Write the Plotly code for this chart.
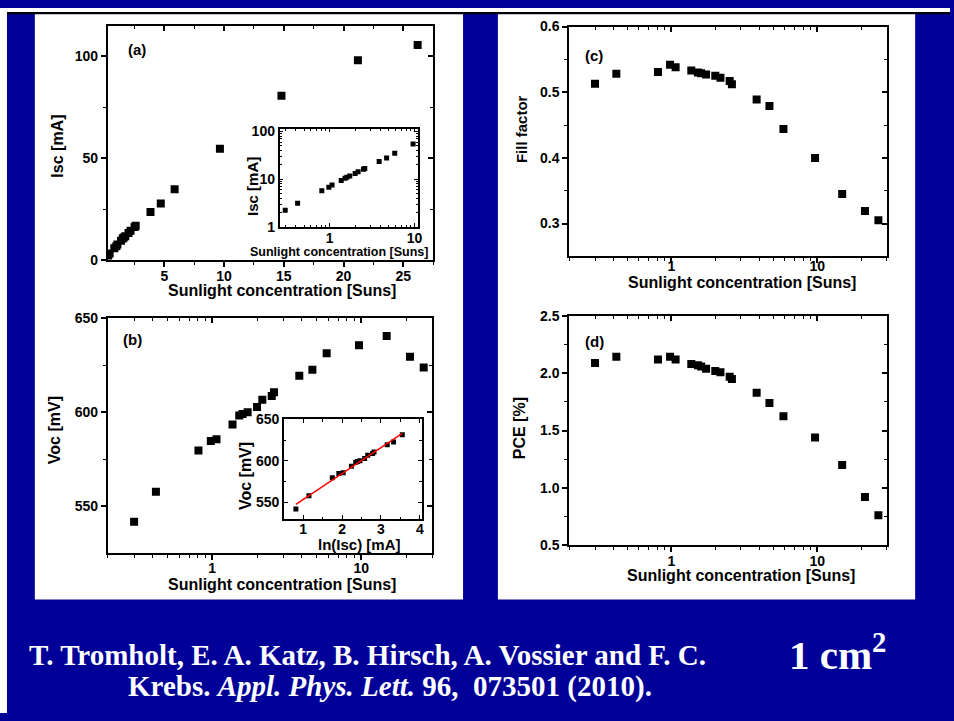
import numpy as np
import plotly.graph_objects as go

# Sunlight concentration [Suns] for each measurement
suns = [0.30, 0.42, 0.81, 0.98, 1.07, 1.37, 1.52, 1.60, 1.73, 2.00,
        2.17, 2.51, 2.60, 3.84, 4.70, 5.86, 9.65, 14.8, 21.2, 26.2]
# Short-circuit current [mA]
isc = [2.25, 3.15, 5.75, 6.8, 7.6, 9.4, 10.5, 11.0, 11.7, 13.2,
       14.3, 16.2, 16.8, 23.6, 27.8, 34.8, 54.7, 80.7, 98.1, 105.6]
# Open-circuit voltage [mV]
voc = [541.8, 557.8, 579.7, 584.7, 585.6, 593.5, 598.3, 599.1, 600.0, 602.8,
       606.6, 608.7, 610.6, 619.4, 622.6, 631.4, 635.6, 640.5, 629.5, 623.8]
# Fill factor
ff = [0.513, 0.528, 0.531, 0.542, 0.538, 0.533, 0.530, 0.529, 0.527, 0.525,
      0.522, 0.517, 0.512, 0.489, 0.479, 0.444, 0.400, 0.345, 0.319, 0.305]
# Power conversion efficiency [%]
pce = [2.09, 2.145, 2.12, 2.145, 2.12, 2.08, 2.07, 2.06, 2.04, 2.02,
       2.01, 1.97, 1.95, 1.83, 1.74, 1.625, 1.44, 1.20, 0.92, 0.76]

N_INSET_A = 17   # points up to 10 suns in the log-log inset
N_INSET_B = 16   # points used for the Voc vs ln(Isc) fit

W, H = 954, 721
NAVY = "#000099"
SANS = "Liberation Sans, Arial, sans-serif"
SERIF = "Liberation Serif, Times New Roman, serif"


def fx(p):
    return p / W


def fy(p):
    return 1 - p / H


# plot-area frames in pixels: (left, right), (top, bottom)
frames = {
    1: ((108.3, 435.0), (18.3, 257.7)),    # (a) Isc
    2: ((108.3, 434.3), (317.3, 557.7)),   # (b) Voc
    3: ((571.7, 890.7), (19.0, 254.0)),    # (c) FF
    4: ((571.7, 890.7), (315.0, 549.3)),   # (d) PCE
    5: ((280.7, 420.0), (123.3, 224.0)),   # inset of (a)
    6: ((285.0, 423.5), (420.7, 522.5)),   # inset of (b)
}

log_minor_main = [0.2, 0.3, 0.4, 0.5, 0.6, 0.7, 0.8, 0.9,
                  2, 3, 4, 5, 6, 7, 8, 9, 20, 30]
log_x_main = [np.log10(0.2), np.log10(30)]

axis_specs = {
    1: dict(xtype="linear", xrange=[0.27, 27.5], xticks=[5, 10, 15, 20, 25],
            xminor=[2.5, 7.5, 12.5, 17.5, 22.5, 27.5], xstandoff=-3,
            ytype="linear", yrange=[0, 115], yticks=[0, 50, 100], yminor=[25, 75]),
    2: dict(xtype="log", xrange=log_x_main, xticks=[1, 10], xminor=log_minor_main,
            xstandoff=-4,
            ytype="linear", yrange=[525, 650], yticks=[550, 600, 650], yminor=[575, 625]),
    3: dict(xtype="log", xrange=log_x_main, xticks=[1, 10], xminor=log_minor_main,
            xstandoff=-9,
            ytype="linear", yrange=[0.25, 0.6], yticks=[0.3, 0.4, 0.5, 0.6],
            yminor=[0.35, 0.45, 0.55]),
    4: dict(xtype="log", xrange=log_x_main, xticks=[1, 10], xminor=log_minor_main,
            xstandoff=-3,
            ytype="linear", yrange=[0.5, 2.5], yticks=[0.5, 1.0, 1.5, 2.0, 2.5],
            yminor=[0.75, 1.25, 1.75, 2.25]),
}
ytickfmt = {1: None, 2: None, 3: ".1f", 4: ".1f"}

TICKFONT = dict(family=SANS, size=14, color="black", weight="bold")
layout_axes = {}

for i, spec in axis_specs.items():
    (x0, x1), (y0, y1) = frames[i]
    xd = [fx(x0), fx(x1)]
    yd = [fy(y1), fy(y0)]
    common = dict(showgrid=False, zeroline=False, color="black", tickcolor="black")
    layout_axes[f"xaxis{i}"] = dict(
        domain=xd, anchor=f"y{i}", type=spec["xtype"], range=spec["xrange"],
        tickmode="array", tickvals=spec["xticks"], ticktext=[str(v) for v in spec["xticks"]],
        ticks="outside", ticklen=5, tickwidth=1.5, ticklabelstandoff=spec["xstandoff"],
        minor=dict(ticks="outside", ticklen=3, tickwidth=1.2, tickmode="array",
                   tickvals=spec["xminor"], tickcolor="black"),
        showline=True, mirror=True, linewidth=2, linecolor="black",
        tickfont=TICKFONT, **common)
    yfmt = ytickfmt[i]
    layout_axes[f"yaxis{i}"] = dict(
        domain=yd, anchor=f"x{i}", type=spec["ytype"], range=spec["yrange"],
        tickmode="array", tickvals=spec["yticks"],
        ticktext=[(format(v, yfmt) if yfmt else str(v)) for v in spec["yticks"]],
        ticks="outside", ticklen=5, tickwidth=1.5,
        minor=dict(ticks="outside", ticklen=3, tickwidth=1.2, tickmode="array",
                   tickvals=spec["yminor"], tickcolor="black"),
        showline=True, mirror=True, linewidth=2, linecolor="black",
        tickfont=TICKFONT, **common)
    # twin axes carrying the inward ticks on the top and right edges
    j = i + 6
    layout_axes[f"xaxis{j}"] = dict(
        overlaying=f"x{i}", anchor=f"y{j}", side="top", type=spec["xtype"],
        range=spec["xrange"], tickmode="array", tickvals=spec["xticks"],
        ticks="inside", ticklen=5, tickwidth=1.5, showticklabels=False,
        minor=dict(ticks="inside", ticklen=3, tickwidth=1.2, tickmode="array",
                   tickvals=spec["xminor"], tickcolor="black"),
        showline=False, **common)
    layout_axes[f"yaxis{j}"] = dict(
        overlaying=f"y{i}", anchor=f"x{j}", side="right", type=spec["ytype"],
        range=spec["yrange"], tickmode="array", tickvals=spec["yticks"],
        ticks="inside", ticklen=5, tickwidth=1.5, showticklabels=False,
        minor=dict(ticks="inside", ticklen=3, tickwidth=1.2, tickmode="array",
                   tickvals=spec["yminor"], tickcolor="black"),
        showline=False, **common)

# insets: all ticks point inward
inset_common = dict(showgrid=False, zeroline=False, color="black", tickcolor="black",
                    showline=True, mirror="allticks", linewidth=1.5, linecolor="black",
                    ticks="inside", ticklen=4, tickwidth=1.2, tickfont=TICKFONT)
(x0, x1), (y0, y1) = frames[5]
layout_axes["xaxis5"] = dict(
    domain=[fx(x0), fx(x1)], anchor="y5", type="log", range=[-0.59, 1.045],
    tickmode="array", tickvals=[1, 10], ticktext=["1", "10"], ticklabelstandoff=-3,
    minor=dict(ticks="inside", ticklen=2.5, tickwidth=1, tickmode="array",
               tickvals=[0.3, 0.4, 0.5, 0.6, 0.7, 0.8, 0.9, 2, 3, 4, 5, 6, 7, 8, 9],
               tickcolor="black"),
    **inset_common)
layout_axes["yaxis5"] = dict(
    domain=[fy(y1), fy(y0)], anchor="x5", type="log", range=[0, 2.06],
    tickmode="array", tickvals=[1, 10, 100], ticktext=["1", "10", "100"],
    minor=dict(ticks="inside", ticklen=2.5, tickwidth=1, tickmode="array",
               tickvals=[2, 3, 4, 5, 6, 7, 8, 9, 20, 30, 40, 50, 60, 70, 80, 90],
               tickcolor="black"),
    **inset_common)
(x0, x1), (y0, y1) = frames[6]
layout_axes["xaxis6"] = dict(
    domain=[fx(x0), fx(x1)], anchor="y6", type="linear", range=[0.5, 4.05],
    tickmode="array", tickvals=[1, 2, 3, 4], ticklabelstandoff=-3,
    minor=dict(ticks="inside", ticklen=2.5, tickwidth=1, tickmode="array",
               tickvals=[1.5, 2.5, 3.5], tickcolor="black"),
    **inset_common)
layout_axes["yaxis6"] = dict(
    domain=[fy(y1), fy(y0)], anchor="x6", type="linear", range=[530, 650],
    tickmode="array", tickvals=[550, 600, 650],
    minor=dict(ticks="inside", ticklen=2.5, tickwidth=1, tickmode="array",
               tickvals=[575, 625], tickcolor="black"),
    **inset_common)

fig = go.Figure()
main_marker = dict(symbol="square", size=8, color="black")
small_marker = dict(symbol="square", size=5, color="black")

fig.add_trace(go.Scatter(x=suns, y=isc, mode="markers", marker=main_marker,
                         xaxis="x", yaxis="y"))
fig.add_trace(go.Scatter(x=suns, y=voc, mode="markers", marker=main_marker,
                         xaxis="x2", yaxis="y2"))
fig.add_trace(go.Scatter(x=suns, y=ff, mode="markers", marker=main_marker,
                         xaxis="x3", yaxis="y3"))
fig.add_trace(go.Scatter(x=suns, y=pce, mode="markers", marker=main_marker,
                         xaxis="x4", yaxis="y4"))
fig.add_trace(go.Scatter(x=suns[:N_INSET_A], y=isc[:N_INSET_A], mode="markers",
                         marker=small_marker, xaxis="x5", yaxis="y5"))

ln_isc = np.log(np.array(isc[:N_INSET_B]))
voc_b = np.array(voc[:N_INSET_B])
slope, intercept = np.polyfit(ln_isc, voc_b, 1)
fit_x = np.array([ln_isc.min(), ln_isc.max()])
fig.add_trace(go.Scatter(x=ln_isc, y=voc_b, mode="markers", marker=small_marker,
                         xaxis="x6", yaxis="y6"))
fig.add_trace(go.Scatter(x=fit_x, y=slope * fit_x + intercept, mode="lines",
                         line=dict(color="red", width=1.5), xaxis="x6", yaxis="y6"))

# empty traces so the twin (top/right) axes are drawn
for i in range(1, 5):
    fig.add_trace(go.Scatter(x=[None], y=[None], mode="markers",
                             xaxis=f"x{i + 6}", yaxis=f"y{i + 6}", hoverinfo="skip"))


def label(text, x, y, size=16, angle=0):
    return dict(text=text, x=fx(x), y=fy(y), xref="paper", yref="paper",
                xanchor="center", yanchor="middle", showarrow=False, textangle=angle,
                font=dict(family=SANS, size=size, color="black", weight="bold"))


annotations = [
    label("Isc [mA]", 58, 141, angle=-90),
    label("Sunlight concentration [Suns]", 283, 289),
    label("(a)", 137.5, 42.5, size=15),
    label("Voc [mV]", 55, 432, angle=-90),
    label("Sunlight concentration [Suns]", 283, 590),
    label("(b)", 133.3, 339, size=15),
    label("Fill factor", 523, 124, angle=-90, size=15),
    label("Sunlight concentration [Suns]", 745, 281),
    label("(c)", 596.7, 49, size=15),
    label("PCE [%]", 522, 430, angle=-90),
    label("Sunlight concentration [Suns]", 744, 580),
    label("(d)", 597, 341, size=15),
    label("Isc [mA]", 254, 182, angle=-90, size=15),
    label("Sunlight concentration [Suns]", 340.5, 250, size=12.5),
    label("Voc [mV]", 246.7, 479, angle=-90, size=16),
    label("ln(Isc) [mA]", 360.7, 549, size=15),
]

cite_font = dict(family=SERIF, size=29, color="white", weight="bold")
annotations += [
    dict(text="T. Tromholt, E. A. Katz, B. Hirsch, A. Vossier and F. C.",
         x=fx(27), y=fy(662), xref="paper", yref="paper", xanchor="left",
         yanchor="middle", showarrow=False, font=cite_font),
    dict(text="Krebs. <i>Appl. Phys. Lett.</i> 96,\u00a0 073501 (2010).",
         x=fx(127), y=fy(694), xref="paper", yref="paper", xanchor="left",
         yanchor="middle", showarrow=False, font=cite_font),
    dict(text="1 cm<sup>2</sup>", x=fx(790), y=fy(659), xref="paper", yref="paper",
         xanchor="left", yanchor="middle", showarrow=False,
         font=dict(family=SERIF, size=41, color="white", weight="bold")),
]


def rect(x0, y0, x1, y1, color):
    return dict(type="rect", xref="paper", yref="paper", x0=fx(x0), x1=fx(x1),
                y0=fy(y1), y1=fy(y0), fillcolor=color, line=dict(width=0), layer="below")


shapes = [
    rect(0, 0, W, 4, "white"),
    rect(0, 0, 7, H, "white"),
    rect(7, 4, W, 6.5, "black"),
    rect(35, 6.5, 465, 605, "white"),
    rect(500, 6.5, 919, 605, "white"),
]

fig.update_layout(
    width=W, height=H, autosize=False,
    margin=dict(l=0, r=0, t=0, b=0, pad=0),
    paper_bgcolor=NAVY, plot_bgcolor="white",
    showlegend=False,
    annotations=annotations, shapes=shapes,
    **layout_axes,
)

fig.write_html("out.html")
